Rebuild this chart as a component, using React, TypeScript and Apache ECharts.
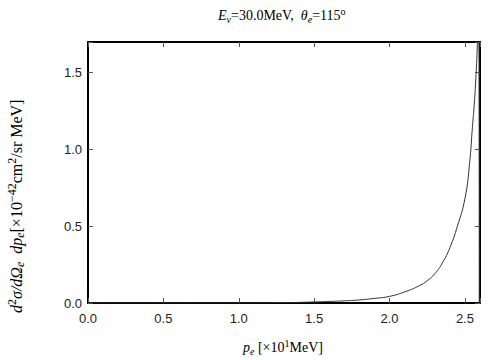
import React, { useEffect, useRef } from "react";
import * as echarts from "echarts";

const xTicks = [0, 0.5, 1.0, 1.5, 2.0, 2.5];
const yTicks = [0, 0.5, 1.0, 1.5];
const momentum = [0.0, 1.0, 1.3, 1.4, 1.5, 1.6, 1.7, 1.8, 1.9, 2.0, 2.1, 2.2, 2.25, 2.3, 2.35, 2.4, 2.45, 2.5, 2.53, 2.55, 2.56, 2.57, 2.583, 2.59, 2.595];
const crossSection = [0.0, 0.0, 0.002, 0.004, 0.007, 0.01, 0.014, 0.02, 0.03, 0.043, 0.072, 0.114, 0.145, 0.19, 0.26, 0.36, 0.5, 0.68, 0.9, 1.15, 1.27, 1.42, 1.7, 2.0, 0.0];

const fmt = (v: number) => {
  const ok = [...xTicks, ...yTicks].some((t) => Math.abs(t - v) < 1e-6);
  return ok ? v.toFixed(1) : "";
};

export default function App() {
  const ref = useRef<HTMLDivElement>(null);
  useEffect(() => {
    if (!ref.current) return;
    const chart = echarts.init(ref.current, undefined, { renderer: "svg" });
    const serif = "Liberation Serif";
    const sans = "Liberation Sans";
    const axisLine = { show: true, onZero: false, lineStyle: { color: "#000", width: 2 } };
    const axisTick = { show: true, inside: true, length: 5, lineStyle: { color: "#555", width: 1 } };
    const mk = (fs: number) => ({
      r: { fontFamily: serif, fontSize: fs, color: "#000", lineHeight: fs + 4 },
      i: { fontFamily: serif, fontSize: fs, fontStyle: "italic", color: "#000", lineHeight: fs + 4 },
      sub: { fontFamily: serif, fontSize: fs - 4, fontStyle: "italic", color: "#000", verticalAlign: "bottom", lineHeight: fs - 3 },
      sup: { fontFamily: serif, fontSize: fs - 4, color: "#000", verticalAlign: "top", lineHeight: fs - 3 },
      supr: { fontFamily: serif, fontSize: fs - 4, color: "#000", verticalAlign: "top", lineHeight: fs - 3 },
    });
    chart.setOption({
      animation: false,
      backgroundColor: "#fff",
      grid: { left: 88, right: 24, top: 42, bottom: 57 },
      xAxis: [
        {
          type: "value", min: 0, max: 2.6, interval: 0.5, position: "bottom",
          axisLine, axisTick, splitLine: { show: false },
          axisLabel: { formatter: fmt, fontFamily: sans, fontSize: 13, color: "#222", margin: 9 },
        },
        {
          type: "value", min: 0, max: 2.6, interval: 0.5, position: "top",
          axisLine, axisTick, splitLine: { show: false }, axisLabel: { show: false },
        },
      ],
      yAxis: [
        {
          type: "value", min: 0, max: 1.7, interval: 0.5, position: "left",
          axisLine, axisTick, splitLine: { show: false },
          axisLabel: { formatter: fmt, fontFamily: sans, fontSize: 13, color: "#222", margin: 6 },
        },
        {
          type: "value", min: 0, max: 1.7, interval: 0.5, position: "right",
          axisLine, axisTick, splitLine: { show: false }, axisLabel: { show: false },
        },
      ],
      series: [
        {
          type: "line",
          data: momentum.map((x, k) => [x, crossSection[k]]),
          showSymbol: false,
          smooth: 0.5,
          clip: true,
          lineStyle: { color: "#333", width: 1 },
        },
      ],
      graphic: [
        {
          type: "text", left: 218, top: 6,
          style: { text: "{i|E}{sub|ν}{r|=30.0MeV,  }{i|θ}{sub|e}{r|=115}{sup|o}", rich: mk(14) },
        },
        {
          type: "text", left: 243, top: 338,
          style: { text: "{i|p}{sub|e}{r| [×10}{supr|1}{r|MeV]}", rich: mk(14) },
        },
        {
          type: "text", x: 6, y: 313, rotation: Math.PI / 2,
          style: { text: "{i|d}{supr|2}{i|σ/dΩ}{sub|e}{i|  dp}{sub|e}{r|[×10}{supr|−42}{r|cm}{supr|2}{r|/sr MeV]}", rich: mk(16) },
        },
      ],
    });
    return () => chart.dispose();
  }, []);
  return <div ref={ref} style={{ width: 504, height: 360, position: "absolute", left: 0, top: 0 }} />;
}
